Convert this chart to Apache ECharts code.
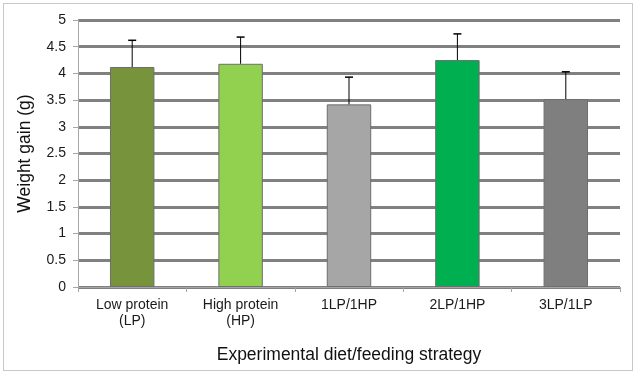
<!DOCTYPE html>
<html>
<head>
<meta charset="utf-8">
<script src="https://cdn.jsdelivr.net/npm/echarts@6/dist/echarts.min.js"></script>
<style>
  html, body { margin: 0; padding: 0; background: #fff; }
  #frame { position: absolute; left: 3px; top: 3px; width: 628px; height: 366px; border: 1px solid #c8c8c8; }
  #main { width: 640px; height: 376px; }
</style>
</head>
<body>
<div id="frame"></div>
<div id="main"></div>
<script>
const categories = ["Low protein\n(LP)", "High protein\n(HP)", "1LP/1HP", "2LP/1HP", "3LP/1LP"];
const weightGain = [4.12, 4.18, 3.42, 4.25, 3.52];
const errors = [0.5, 0.5, 0.51, 0.49, 0.51];
const barColors = ["#77933c", "#92d050", "#a6a6a6", "#00b050", "#7f7f7f"];
const yTicks = [0, 0.5, 1, 1.5, 2, 2.5, 3, 3.5, 4, 4.5, 5];

const chart = echarts.init(document.getElementById("main"));

const option = {
  animation: false,
  textStyle: { fontFamily: "Liberation Sans, Arial, sans-serif" },
  grid: { left: 78, right: 20, top: 20, bottom: 89 },
  xAxis: {
    type: "category",
    data: categories,
    name: "Experimental diet/feeding strategy",
    nameLocation: "middle",
    nameGap: 59,
    nameTextStyle: { fontSize: 17.5, color: "#111" },
    axisLine: { lineStyle: { color: "#a6a6a6", width: 1 } },
    axisTick: { show: true, length: 5, lineStyle: { color: "#a6a6a6" } },
    axisLabel: { fontSize: 14, color: "#1a1a1a", lineHeight: 16, margin: 10, interval: 0 }
  },
  yAxis: {
    type: "value",
    min: yTicks[0],
    max: yTicks[yTicks.length - 1],
    interval: 0.5,
    name: "Weight gain (g)",
    nameLocation: "middle",
    nameGap: 44,
    nameTextStyle: { fontSize: 17.5, color: "#111" },
    axisLine: { show: true, lineStyle: { color: "#a6a6a6", width: 1 } },
    axisTick: { show: true, length: 5, lineStyle: { color: "#a6a6a6" } },
    axisLabel: { fontSize: 14, color: "#1a1a1a", margin: 12 },
    splitLine: { lineStyle: { color: "#808080", width: 3 } }
  },
  series: [
    {
      type: "bar",
      barWidth: "41%",
      data: weightGain.map((v, i) => ({
        value: v,
        itemStyle: { color: barColors[i], borderColor: "#6e6e6e", borderWidth: 1 }
      })),
      z: 2
    },
    {
      // error bars, upper half only
      type: "custom",
      z: 3,
      data: weightGain.map((v, i) => [i, v, v + errors[i]]),
      renderItem: function (params, api) {
        const base = api.coord([api.value(0), api.value(1)]);
        const top = api.coord([api.value(0), api.value(2)]);
        const cap = 4;
        return {
          type: "group",
          children: [
            { type: "line", shape: { x1: base[0], y1: base[1], x2: top[0], y2: top[1] }, style: { stroke: "#000", lineWidth: 1 } },
            { type: "line", shape: { x1: top[0] - cap, y1: top[1], x2: top[0] + cap, y2: top[1] }, style: { stroke: "#000", lineWidth: 1.5 } }
          ]
        };
      }
    }
  ]
};

chart.setOption(option);
</script>
</body>
</html>
